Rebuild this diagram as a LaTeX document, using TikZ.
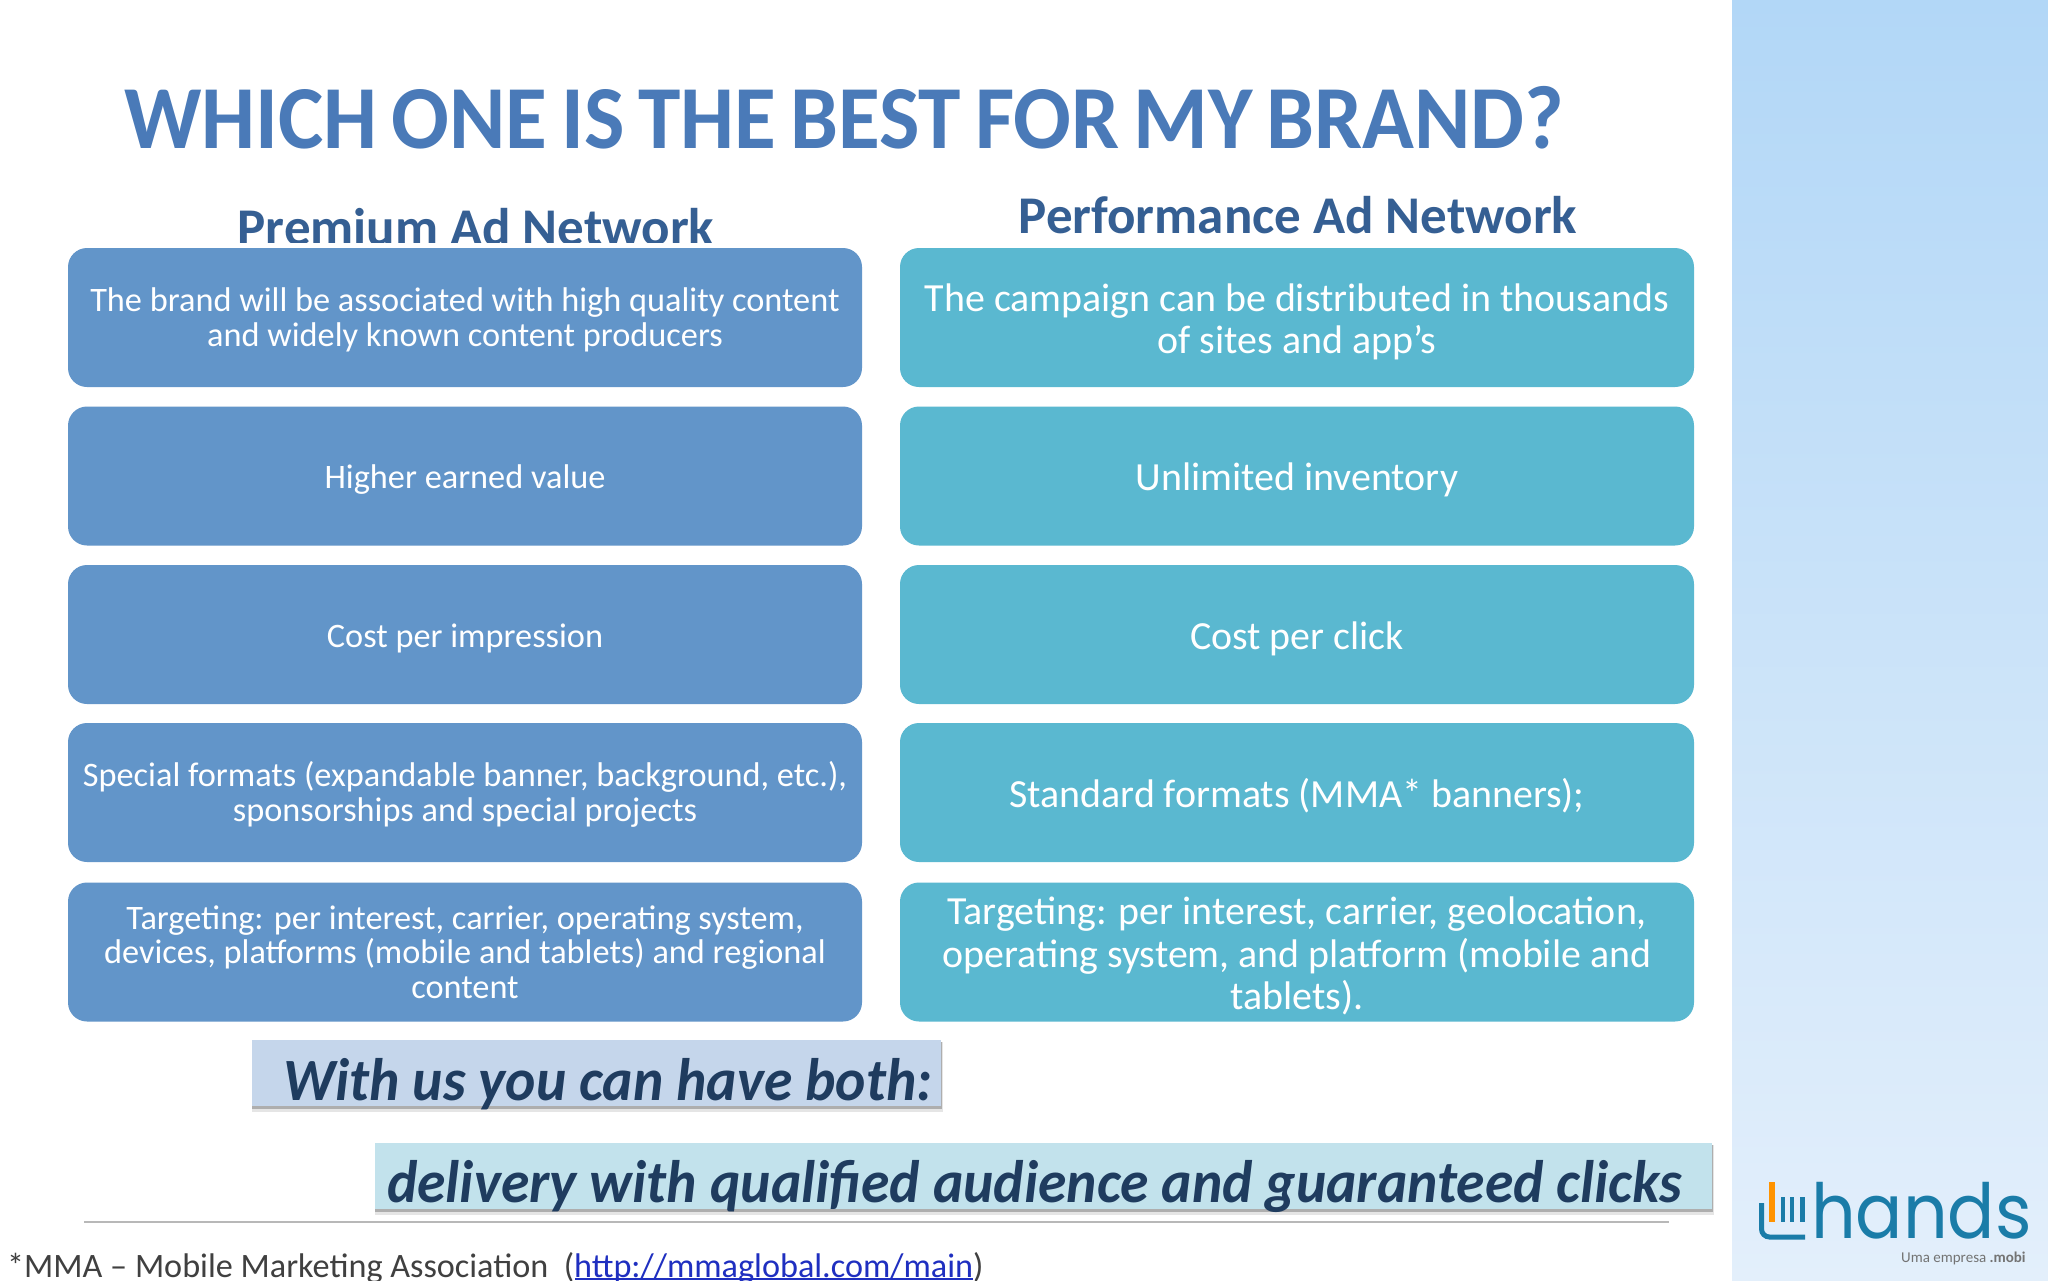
\documentclass[tikz,border=0pt]{standalone}
\usepackage{fontspec}
\setmainfont{Carlito}
\newfontfamily\titlefont[FakeStretch=0.95,WordSpace=0.72]{Carlito}
\newfontfamily\bandfont[FakeStretch=0.959]{Carlito}
\newfontfamily\logofont[FakeStretch=0.92]{Poppins}
\newcommand\dropleft{\rule{0pt}{29pt}}
\newcommand\dropright{\rule{0pt}{36pt}}
\definecolor{titleblue}{HTML}{4A7AB8}
\definecolor{headblue}{HTML}{355F93}
\definecolor{leftbox}{HTML}{6295C9}
\definecolor{rightbox}{HTML}{5AB8D0}
\definecolor{bandone}{HTML}{C5D6EB}
\definecolor{bandtwo}{HTML}{C2E2EC}
\definecolor{bandtext}{HTML}{1F3C5F}
\definecolor{logoblue}{HTML}{1A7CA8}
\definecolor{linkblue}{HTML}{1F2FC0}
\tikzset{
  x=1pt,y=-1pt,
  cardbase/.style={rounded corners=19pt,draw=none,minimum width=794pt,minimum height=139pt,inner sep=0pt,text=white,align=center,anchor=center},
  leftcard/.style={cardbase,fill=leftbox,font=\fontsize{34.3}{34.5}\selectfont},
  rightcard/.style={cardbase,fill=rightbox,font=\fontsize{39.9}{42.5}\selectfont},
  heading/.style={anchor=base,inner sep=0pt,text=headblue,font=\fontsize{53}{54}\selectfont\bfseries},
  bandtxt/.style={anchor=base west,inner sep=0pt,text=bandtext,font=\bandfont\fontsize{60}{62}\selectfont\bfseries\itshape},
  softa/.style={fill=black,opacity=.10},
  softb/.style={fill=black,opacity=.24},
}
\begin{document}
\begin{tikzpicture}
\useasboundingbox (0,0) rectangle (2048,1280);
\fill[white] (0,0) rectangle (2048,1280);
\shade[top color={rgb,255:red,178;green,215;blue,247},bottom color={rgb,255:red,227;green,239;blue,251}] (1732,0) rectangle (2048,1280);

\node[anchor=base west,inner sep=0pt,text=titleblue,font=\titlefont\fontsize{90}{92}\selectfont\bfseries] (title) at (124,148) {WHICH ONE IS THE BEST FOR MY BRAND?};

\begin{scope}
\clip (0,180) rectangle (880,242);
\node[heading] (headleft) at (476,245) {Premium Ad Network};
\end{scope}
\node[heading] (headright) at (1298,233.5) {Performance Ad Network};

\node[leftcard] (l1) at (465,317.5) {\dropleft The brand will be associated with high quality content\\and widely known content producers};
\node[leftcard] (l2) at (465,476) {\rule{0pt}{31pt}Higher earned value};
\node[leftcard] (l3) at (465,634.5) {\rule{0pt}{31pt}Cost per impression};
\node[leftcard] (l4) at (465,792.5) {\dropleft Special formats (expandable banner, background, etc.),\\sponsorships and special projects};
\node[leftcard] (l5) at (465,952) {Targeting: per interest, carrier, operating system,\\devices, platforms (mobile and tablets) and regional\\content};

\node[rightcard] (r1) at (1297,317.5) {\dropright The campaign can be distributed in thousands\\of sites and app’s};
\node[rightcard] (r2) at (1297,476) {\rule{0pt}{36pt}Unlimited inventory};
\node[rightcard] (r3) at (1297,634.5) {\rule{0pt}{36pt}Cost per click};
\node[rightcard] (r4) at (1297,792.5) {\rule{0pt}{36pt}Standard formats (MMA* banners);};
\node[rightcard] (r5) at (1297,952) {\dropright Targeting: per interest, carrier, geolocation,\\operating system, and platform (mobile and\\tablets).};

\fill[softa] (252,1042) rectangle (943,1112);
\fill[softb] (252,1042) rectangle (941.5,1109);
\fill[bandone] (252,1040) rectangle (941,1106);
\node[bandtxt] (bandonetext) at (283,1100) {With us you can have both:};

\fill[softa] (375,1145) rectangle (1714,1215);
\fill[softb] (375,1145) rectangle (1712.5,1212);
\fill[bandtwo] (375,1143) rectangle (1712,1209);
\node[bandtxt] (bandtwotext) at (387,1202) {delivery with qualified audience and guaranteed clicks};

\coordinate (rulea) at (84,1222);
\coordinate (ruleb) at (1669,1222);
\draw[line width=2.5pt,black!28] (rulea) -- (ruleb);

\begin{scope}
\clip (0,1230) rectangle (1200,1280);
\node[anchor=base west,inner sep=0pt,text=black!75,font=\fontsize{34.2}{35}\selectfont] (foot) at (7,1277)
  {*MMA – Mobile Marketing Association\ \ (\textcolor{linkblue}{http://mmaglobal.com/main})};
\end{scope}
\coordinate (linka) at (575,1279);
\coordinate (linkb) at (973,1279);
\draw[line width=1.5pt,linkblue] (linka) -- (linkb);

% logo mark
\coordinate (ma) at (1761.5,1203);
\coordinate (mb) at (1761.5,1237);
\coordinate (mc) at (1805,1237);
\draw[logoblue,line width=5pt,rounded corners=8pt] (ma) -- (mb) -- (mc);
\fill[orange!85!yellow] (1769,1182) rectangle (1774.5,1222);
\fill[logoblue] (1781,1197) rectangle (1784.5,1222);
\fill[logoblue] (1790,1197) rectangle (1794,1222);
\fill[logoblue] (1800,1197) rectangle (1804.5,1222);
\node[anchor=base west,inner sep=0pt,text=logoblue,text depth=0pt,font=\logofont\fontsize{76}{78}\selectfont] (logo) at (1811,1238.5) {hands};
\node[anchor=base west,inner sep=0pt,text=black!55,text height=11pt,font=\fontsize{15}{16}\selectfont] (tag) at (1901,1262) {Uma empresa \textbf{.mobi}};
\end{tikzpicture}
\end{document}
